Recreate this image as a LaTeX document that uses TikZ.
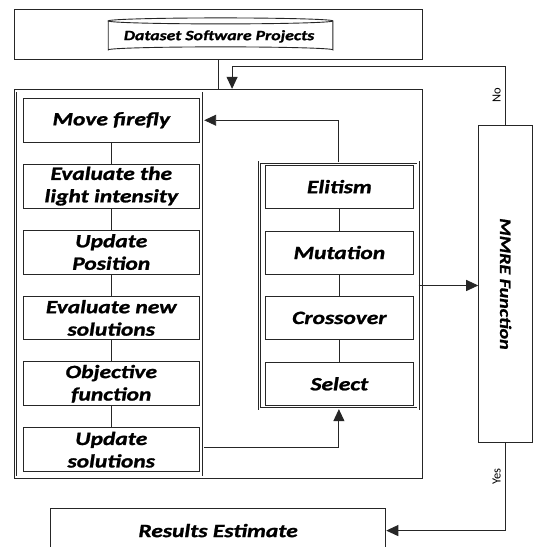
\documentclass[tikz,border=0pt]{standalone}
\usepackage{fontspec}
\setmainfont{Carlito}
\newfontfamily\widefont[FakeStretch=1.25, FakeBold=1.2]{Carlito}
\usetikzlibrary{arrows.meta,calc}
\begin{document}
\begin{tikzpicture}[x=1pt,y=-1pt,
  every path/.style={line width=0.9pt, draw=black!85},
  lbl/.style={font=\widefont\fontsize{18.8}{22.5}\selectfont\bfseries\itshape, align=center, text=black},
  stepbox/.style={draw, line width=0.9pt, minimum width=176pt, minimum height=44pt, inner sep=0pt, lbl},
  gabox/.style={draw, line width=0.9pt, minimum width=149pt, minimum height=43pt, inner sep=0pt, lbl},
  frame/.style={draw, line width=0.9pt, inner sep=0pt},
  dframe/.style={draw, double, double distance=1.6pt, line width=0.7pt, inner sep=0pt},
  arr/.style={-{Triangle[length=12pt,width=11pt]}, line width=0.9pt},
  small/.style={font=\fontsize{12.5}{14}\selectfont, rotate=90, text=black}
]
\useasboundingbox (0,0) rectangle (532,547);
\fill[white] (0,0) rectangle (532,547);

% top box with dataset cylinder
\node[frame, minimum width=409pt, minimum height=50pt] (top) at (218.5,34) {};
\draw[fill=white] (108,20.5) -- (108,49.5) arc[start angle=180, end angle=360, x radius=112.5pt, y radius=-3pt]
   -- (333,20.5) arc[start angle=0, end angle=360, x radius=112.5pt, y radius=3pt];
\node[font=\widefont\fontsize{14.2}{16}\selectfont\bfseries\itshape, text=black] (ds) at (219,36) {Dataset Software Projects};

% big box
\node[frame, minimum width=409pt, minimum height=390pt] (big) at (218.5,284) {};

% left column frame
\node[dframe, minimum width=188.5pt, minimum height=387pt] (leftcol) at (109.5,284) {};
% left steps
\node[stepbox] (move) at (111,120) {Move firefly};
\node[stepbox] (eval) at (111,186) {Evaluate the\\light intensity};
\node[stepbox] (updp) at (111,252) {Update\\Position};
\node[stepbox] (evaln) at (111,318) {Evaluate new\\solutions};
\node[stepbox] (obj) at (111,384) {Objective\\function};
\node[stepbox] (upds) at (111,450) {Update\\solutions};
\draw (move) -- (eval);
\draw (eval) -- (updp);
\draw (updp) -- (evaln);
\draw (evaln) -- (obj);
\draw (obj) -- (upds);

% GA column
\node[dframe, minimum width=159pt, minimum height=247pt] (ga) at (339,285.5) {};
\node[gabox] (eli) at (339.5,186.5) {Elitism};
\node[gabox] (mut) at (339.5,252.5) {Mutation};
\node[gabox] (cro) at (339.5,318) {Crossover};
\node[gabox] (sel) at (339.5,384) {Select};
\draw (eli) -- (mut);
\draw (mut) -- (cro);
\draw (cro) -- (sel);

% MMRE
\node[frame, minimum width=54pt, minimum height=318pt] (mmre) at (506,284) {};
\node[lbl, font=\widefont\fontsize{16}{18}\selectfont\bfseries\itshape, rotate=-90] (mmret) at (506,284) {MMRE Function};

% results
\node[frame, minimum width=336pt, minimum height=44pt, lbl] (res) at (218,531) {Results Estimate};

% connectors
\draw (top.south) -- (big.north);
\coordinate (fb) at (232,66);
\draw[arr] (mmre.north) |- (fb) -- (fb |- big.north);
\node[small] (no) at (497,95) {No};

\coordinate (c3) at (339,120);
\draw[arr] (ga.north) -- (c3) -- (c3 -| leftcol.east);

\coordinate (c4) at (339,448);
\draw[arr] (c4 -| leftcol.east) -- (c4) -- (ga.south);

\draw[arr] (ga.east) -- (ga.east -| mmre.west);

\draw[arr] (mmre.south) |- (res.east);
\node[small] (yes) at (497,477) {Yes};
\end{tikzpicture}
\end{document}
